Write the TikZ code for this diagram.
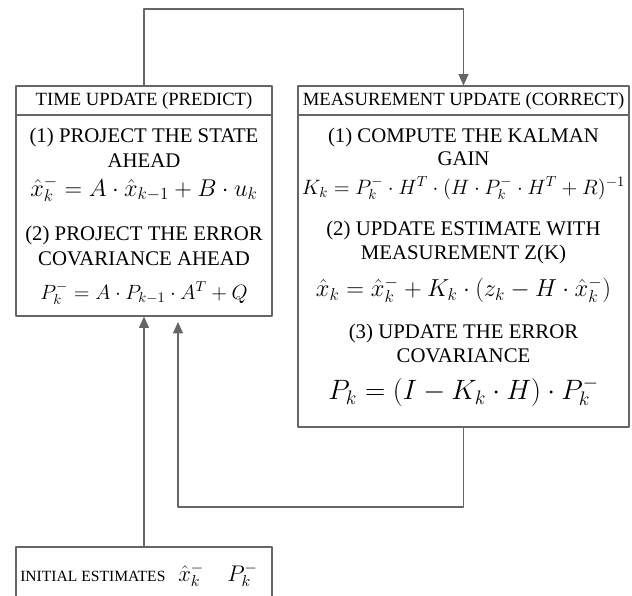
\documentclass[tikz,border=0pt]{standalone}
\usepackage{fix-cm}
\usepackage{fontspec}
\setmainfont{Liberation Serif}
\usetikzlibrary{arrows.meta}

\begin{document}
\begin{tikzpicture}[x=0.75pt,y=-0.75pt,>={Triangle[length=8.5pt,width=7.5pt]},line cap=round,line join=round,
  frame/.style={draw=black!60,line width=0.8pt,inner sep=0pt},
  flow/.style={->,draw=black!60,line width=0.8pt},
  head/.style={font=\fontsize{14}{16}\selectfont,inner sep=0pt},
  txt/.style={font=\fontsize{15.6}{18}\selectfont,inner sep=0pt},
  eq/.style={font=\fontsize{#1}{#1}\selectfont,inner sep=0pt},
  eq/.default=17]
\useasboundingbox (0,0) rectangle (632,596);
\clip (0,0) rectangle (632,596);
% time update box
\node[frame,minimum width=192pt,minimum height=21.75pt] (tuhead) at (144,100.5) {};
\node[frame,minimum width=192pt,minimum height=150.75pt] (tubody) at (144,215.5) {};
\node[head] (tutitle) at (144,101) {TIME UPDATE (PREDICT)};
\node[txt] (tu1a) at (144,137) {(1) PROJECT THE STATE};
\node[txt] (tu1b) at (144,161) {AHEAD};
\node[eq=18.2] (tueq1) at (144,189) {$\hat{x}_k^- = A\cdot\hat{x}_{k-1} + B\cdot u_k$};
\node[txt] (tu2a) at (144,235) {(2) PROJECT THE ERROR};
\node[txt] (tu2b) at (144,259) {COVARIANCE AHEAD};
\node[eq=15.5] (tueq2) at (144,293) {$P_k^- = A\cdot P_{k-1}\cdot A^T + Q$};
% measurement update box
\node[frame,minimum width=248.25pt,minimum height=21.75pt] (muhead) at (463.5,100.5) {};
\node[frame,minimum width=248.25pt,minimum height=234pt] (mubody) at (463.5,271) {};
\node[head] (mutitle) at (463.5,101) {MEASUREMENT UPDATE (CORRECT)};
\node[txt] (mu1a) at (463.5,137) {(1) COMPUTE THE KALMAN};
\node[txt] (mu1b) at (463.5,159) {GAIN};
\node[eq=15.6] (mueq1) at (463.5,188) {$K_k = P_k^-\cdot H^T\cdot(H\cdot P_k^-\cdot H^T + R)^{-1}$};
\node[txt] (mu2a) at (463.5,230) {(2) UPDATE ESTIMATE WITH};
\node[txt] (mu2b) at (463.5,254) {MEASUREMENT Z(K)};
\node[eq=18.4] (mueq2) at (463.5,290) {$\hat{x}_k = \hat{x}_k^- + K_k\cdot(z_k - H\cdot\hat{x}_k^-)$};
\node[txt] (mu3a) at (463.5,333) {(3) UPDATE THE ERROR};
\node[txt] (mu3b) at (463.5,356) {COVARIANCE};
\node[eq=21] (mueq3) at (463.5,392) {$P_k = (I - K_k\cdot H)\cdot P_k^-$};
% initial estimates
\node[frame,minimum width=192pt,minimum height=43.5pt] (init) at (144,576) {};
\node[font=\fontsize{11.7}{14}\selectfont,inner sep=0pt,anchor=west] (initxt) at (20,576) {INITIAL ESTIMATES};
\node[eq,anchor=west] (initx) at (178,575) {$\hat{x}_k^-$};
\node[eq,anchor=west] (initp) at (227,575) {$P_k^-$};
% connectors
\coordinate (loop) at (303,9);
\coordinate (back) at (178,507);
\coordinate (backend) at (178,322);
\draw[flow] (tuhead.north) |- (loop) -| (muhead.north);
\draw[flow] (init.north) -- (tubody.south);
\draw[flow] (mubody.south) |- (back) -- (backend);
\end{tikzpicture}
\end{document}
